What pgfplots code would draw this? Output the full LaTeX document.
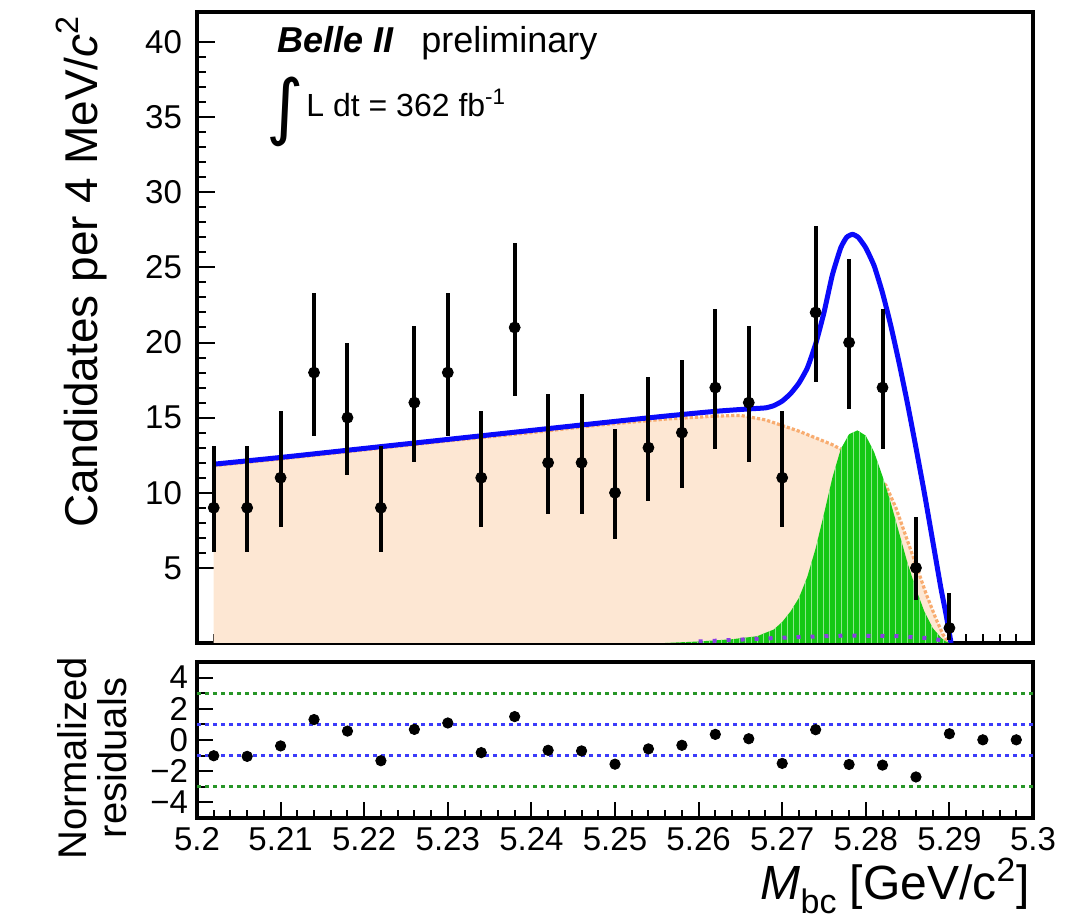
\documentclass[border=0pt]{standalone}
\usepackage{fontspec}
\setmainfont{Liberation Sans}
\newfontfamily\djv{DejaVu Sans}
\usepackage{pgfplots}
\usepackage{pgfplotstable}
\pgfplotsset{compat=1.18}
\usetikzlibrary{patterns}

\definecolor{fitblue}{RGB}{10,10,250}
\definecolor{sigfill}{RGB}{20,200,20}
\definecolor{sigstripe}{RGB}{140,230,140}
\definecolor{bkgfill}{RGB}{253,231,211}
\definecolor{bkgline}{RGB}{248,172,112}
\definecolor{peakpurple}{RGB}{140,60,230}
\definecolor{resgreen}{RGB}{40,150,40}
\definecolor{resblue}{RGB}{60,60,250}

\pgfplotstableread{
x y ep em
5.202 9 4.10 2.94
5.206 9 4.10 2.94
5.210 11 4.41 3.26
5.214 18 5.32 4.20
5.218 15 4.96 3.83
5.222 9 4.10 2.94
5.226 16 5.08 3.95
5.230 18 5.32 4.20
5.234 11 4.41 3.26
5.238 21 5.65 4.54
5.242 12 4.55 3.41
5.246 12 4.55 3.41
5.250 10 4.26 3.10
5.254 13 4.69 3.55
5.258 14 4.83 3.69
5.262 17 5.20 4.07
5.266 16 5.08 3.95
5.270 11 4.41 3.26
5.274 22 5.76 4.66
5.278 20 5.54 4.43
5.282 17 5.20 4.07
5.286 5 3.38 2.16
5.290 1 2.30 0.83
}\datatable

\pgfplotstableread{
x y
5.2020 11.90
5.2100 12.35
5.2200 12.95
5.2300 13.55
5.2400 14.15
5.2500 14.75
5.2560 15.10
5.2620 15.42
5.2660 15.58
5.2680 15.65
5.2690 15.80
5.2700 16.10
5.2710 16.60
5.2720 17.30
5.2730 18.30
5.2740 19.90
5.2750 22.00
5.2760 24.50
5.2770 26.30
5.2777 27.00
5.2784 27.20
5.2791 27.00
5.2800 26.30
5.2810 25.10
5.2820 23.30
5.2830 21.10
5.2840 18.60
5.2850 15.90
5.2860 13.00
5.2870 10.00
5.2880 6.80
5.2890 3.60
5.2896 1.90
5.2902 0.00
}\totaltable

\pgfplotstableread{
x y
5.2020 11.80
5.2100 12.25
5.2200 12.85
5.2300 13.45
5.2400 14.00
5.2480 14.50
5.2560 14.90
5.2620 15.10
5.2650 15.15
5.2680 14.85
5.2720 14.10
5.2760 13.20
5.2790 12.30
5.2824 10.50
5.2836 9.00
5.2848 7.10
5.2860 5.20
5.2872 3.30
5.2884 1.60
5.2892 0.60
5.2898 0.10
5.2900 0.00
}\bkgtable

\pgfplotstableread{
x y
5.2560 0.00
5.2600 0.10
5.2640 0.25
5.2670 0.45
5.2690 0.90
5.2700 1.40
5.2710 2.10
5.2720 3.00
5.2730 4.40
5.2740 6.30
5.2750 8.60
5.2760 11.00
5.2770 12.90
5.2780 13.90
5.2790 14.15
5.2800 13.80
5.2810 12.70
5.2820 11.10
5.2830 9.30
5.2840 7.30
5.2850 5.30
5.2860 3.60
5.2870 2.10
5.2880 1.00
5.2890 0.35
5.2895 0.12
5.2900 0.00
}\sigtable

\pgfplotstableread{
x y
5.2600 0.10
5.2660 0.25
5.2720 0.40
5.2780 0.50
5.2840 0.45
5.2880 0.30
5.2900 0.05
}\peaktable

\pgfplotstableread{
x y
5.202 -1.01
5.206 -1.05
5.210 -0.38
5.214 1.31
5.218 0.57
5.222 -1.33
5.226 0.68
5.230 1.09
5.234 -0.81
5.238 1.50
5.242 -0.66
5.246 -0.70
5.250 -1.55
5.254 -0.57
5.258 -0.34
5.262 0.36
5.266 0.08
5.270 -1.50
5.274 0.66
5.278 -1.57
5.282 -1.61
5.286 -2.37
5.290 0.40
5.294 0.01
5.298 0.01
}\restable

\begin{document}
\begin{tikzpicture}[x=0.5pt,y=0.5pt]
\useasboundingbox (0,0) rectangle (1087,920);

% ---------------- main panel ----------------
\begin{axis}[
  at={(98.5pt,138.5pt)}, anchor=south west,
  scale only axis, width=418pt, height=315.5pt,
  xmin=5.2, xmax=5.3, ymin=0, ymax=42,
  axis line style={line width=2pt},
  tick align=inside, xtick pos=bottom, ytick pos=left,
  xtick={5.2,5.21,5.22,5.23,5.24,5.25,5.26,5.27,5.28,5.29,5.3},
  xticklabels={},
  minor x tick num=4,
  ytick={5,10,15,20,25,30,35,40},
  yticklabels={5,10,15,20,25,30,35,40},
  minor y tick num=4,
  major tick length=9pt, minor tick length=4.5pt,
  tick style={line width=1pt, black},
  yticklabel style={font=\fontsize{16.5}{18}\selectfont, xshift=-4pt},
]
\addplot[draw=none, fill=bkgfill] table[x=x,y=y] {\bkgtable} \closedcycle;
\addplot[bkgline, line width=1.6pt, densely dotted] table[x=x,y=y] {\bkgtable};
\addplot[draw=none, fill=sigfill, postaction={pattern=vertical lines, pattern color=sigstripe}] table[x=x,y=y] {\sigtable} \closedcycle;
\addplot[peakpurple, line width=2pt, dash pattern=on 2pt off 5pt] table[x=x,y=y] {\peaktable};
\addplot[fitblue, line width=2.5pt, smooth, tension=0.3] table[x=x,y=y] {\totaltable};
\addplot[only marks, mark=*, mark size=2.75pt, black,
  error bars/.cd, y dir=both, y explicit,
  error bar style={line width=2pt, black}, error mark=none]
  table[x=x, y=y, y error plus=ep, y error minus=em] {\datatable};
\end{axis}

% ---------------- residual panel ----------------
\begin{axis}[
  at={(98.5pt,51pt)}, anchor=south west,
  scale only axis, width=418pt, height=78pt,
  xmin=5.2, xmax=5.3, ymin=-5, ymax=5,
  axis line style={line width=2pt},
  tick align=inside, xtick pos=bottom, ytick pos=left,
  xtick={5.2,5.21,5.22,5.23,5.24,5.25,5.26,5.27,5.28,5.29,5.3},
  xticklabels={5.2,5.21,5.22,5.23,5.24,5.25,5.26,5.27,5.28,5.29,5.3},
  minor x tick num=4,
  ytick={-4,-2,0,2,4},
  yticklabels={−4,−2,0,2,4},
  minor y tick num=1,
  major tick length=8pt, minor tick length=4pt,
  tick style={line width=1pt, black},
  xticklabel style={font=\fontsize{16.5}{18}\selectfont, yshift=-1pt},
  yticklabel style={font=\fontsize{16.5}{18}\selectfont, xshift=-1pt},
]
\addplot[resgreen, line width=1.5pt, dash pattern=on 2pt off 2pt] coordinates {(5.2,3) (5.3,3)};
\addplot[resgreen, line width=1.5pt, dash pattern=on 2pt off 2pt] coordinates {(5.2,-3) (5.3,-3)};
\addplot[resblue, line width=1.5pt, dash pattern=on 2pt off 2pt] coordinates {(5.2,1) (5.3,1)};
\addplot[resblue, line width=1.5pt, dash pattern=on 2pt off 2pt] coordinates {(5.2,-1) (5.3,-1)};
\addplot[only marks, mark=*, mark size=2.6pt, black] table[x=x,y=y] {\restable};
\end{axis}

% ---------------- titles and texts ----------------
\node[rotate=90, anchor=base east, inner sep=0pt, font=\fontsize{23}{27}\selectfont]
  at (97,905) {Candidates per 4 MeV/\textit{c}\textsuperscript{2}};
\node[rotate=90, align=center, inner sep=0pt, font=\fontsize{20}{20}\selectfont]
  at (92,162) {Normalized\\residuals};
\node[anchor=base east, inner sep=0pt, font=\fontsize{24}{28}\selectfont]
  at (1030,20) {\textit{M}\raisebox{-0.28em}{\fontsize{17}{17}\selectfont bc} [GeV/c\textsuperscript{2}]};
\node[anchor=base west, inner sep=0pt, font=\fontsize{18}{20}\selectfont]
  at (277,867) {\textbf{\textit{Belle II}}};
\node[anchor=base west, inner sep=0pt, font=\fontsize{18}{20}\selectfont]
  at (421,867) {preliminary};
\node[inner sep=0pt] at (285,808) {\djv\fontsize{36}{36}\selectfont ∫};
\node[anchor=base west, inner sep=0pt, font=\fontsize{16}{18}\selectfont]
  at (306,803) {L dt = 362 fb\textsuperscript{-1}};
\end{tikzpicture}
\end{document}
